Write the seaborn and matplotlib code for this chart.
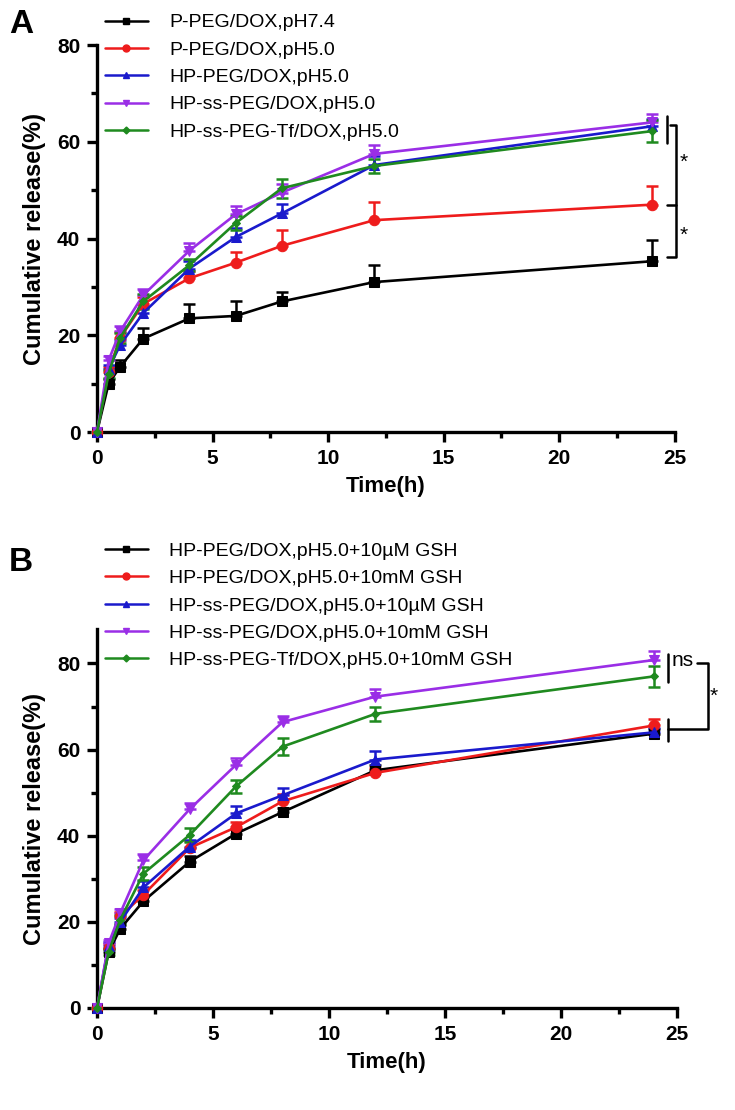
import matplotlib
matplotlib.use('Agg')
import matplotlib.pyplot as plt
import seaborn as sns
import pandas as pd
import numpy as np
from matplotlib.lines import Line2D
from matplotlib.ticker import MultipleLocator

sns.set_theme(style="ticks")
plt.rcParams['font.family'] = ['Liberation Sans', 'DejaVu Sans']
plt.rcParams['text.color'] = 'black'
plt.rcParams['axes.labelcolor'] = 'black'

# 시간 (h)
time = [0, 0.5, 1, 2, 4, 6, 8, 12, 24]

# A: pH 조건별 누적 방출
labels_a = ['P-PEG/DOX,pH7.4', 'P-PEG/DOX,pH5.0', 'HP-PEG/DOX,pH5.0',
            'HP-ss-PEG/DOX,pH5.0', 'HP-ss-PEG-Tf/DOX,pH5.0']
a_p_peg_74 = [0, 10.0, 13.5, 19.3, 23.5, 24.0, 27.0, 31.0, 35.3]
a_p_peg_50 = [0, 12.5, 19.5, 26.5, 31.8, 35.0, 38.5, 43.8, 47.0]
a_hp_peg_50 = [0, 13.0, 18.0, 24.6, 33.8, 40.3, 45.2, 55.2, 63.2]
a_hp_ss_peg_50 = [0, 14.8, 20.8, 28.3, 37.5, 45.0, 49.5, 57.5, 64.0]
a_hp_ss_tf_50 = [0, 12.0, 19.5, 27.0, 34.5, 43.2, 50.4, 55.0, 62.2]
a_err_p_peg_74 = [0, 1.0, 1.3, 2.3, 3.0, 3.0, 2.0, 3.5, 4.5]
a_err_p_peg_50 = [0, 1.0, 1.2, 1.5, 1.5, 2.3, 3.2, 3.8, 3.8]
a_err_hp_peg_50 = [0, 0.8, 1.0, 1.0, 1.5, 1.8, 2.0, 1.8, 1.5]
a_err_hp_ss_peg_50 = [0, 1.0, 1.2, 1.3, 1.5, 1.7, 1.8, 1.8, 1.7]
a_err_hp_ss_tf_50 = [0, 0.8, 1.0, 1.5, 1.3, 1.5, 2.0, 1.5, 2.3]

# B: GSH 농도별 누적 방출
labels_b = ['HP-PEG/DOX,pH5.0+10µM GSH', 'HP-PEG/DOX,pH5.0+10mM GSH',
            'HP-ss-PEG/DOX,pH5.0+10µM GSH', 'HP-ss-PEG/DOX,pH5.0+10mM GSH',
            'HP-ss-PEG-Tf/DOX,pH5.0+10mM GSH']
b_hp_peg_um = [0, 13.0, 18.4, 24.8, 34.0, 40.5, 45.5, 55.2, 63.7]
b_hp_peg_mm = [0, 14.0, 21.3, 26.3, 37.2, 42.0, 48.0, 54.6, 65.6]
b_hp_ss_peg_um = [0, 14.5, 20.0, 28.0, 37.5, 45.2, 49.4, 57.7, 64.0]
b_hp_ss_peg_mm = [0, 15.0, 22.0, 34.3, 46.2, 56.5, 66.4, 72.3, 80.8]
b_hp_ss_tf_mm = [0, 13.0, 20.5, 31.2, 40.2, 51.5, 60.7, 68.3, 77.0]
b_err_hp_peg_um = [0, 0.8, 0.8, 1.0, 1.2, 1.0, 1.0, 1.2, 1.0]
b_err_hp_peg_mm = [0, 0.8, 1.0, 1.2, 1.5, 1.3, 1.8, 1.2, 1.6]
b_err_hp_ss_peg_um = [0, 0.8, 1.0, 1.5, 1.5, 1.8, 1.8, 2.0, 1.0]
b_err_hp_ss_peg_mm = [0, 0.8, 1.0, 1.5, 1.3, 1.5, 1.3, 1.7, 2.0]
b_err_hp_ss_tf_mm = [0, 0.8, 1.0, 1.5, 1.7, 1.5, 2.0, 1.7, 2.4]

colors = ['#000000', '#ee1c1c', '#1a1acc', '#9a2ee6', '#1f8a1f']
markers = ['s', 'o', '^', 'v', 'D']
msizes = [7, 7.5, 7, 7, 4.5]
# 초록색만 양방향 오차막대
both_sides = [False, False, False, False, True]


def draw_panel(ax, labels, values, errs):
    for i, (lab, v, e) in enumerate(zip(labels, values, errs)):
        df = pd.DataFrame({'time': time, 'release': v})
        e = np.array(e)
        lower = e if both_sides[i] else np.zeros_like(e)
        ax.errorbar(time, v, yerr=[lower, e], fmt='none', ecolor=colors[i],
                    elinewidth=1.8, capsize=4.5, capthick=1.8, clip_on=False, zorder=2)
        sns.lineplot(x='time', y='release', data=df, ax=ax, color=colors[i],
                     marker=markers[i], markersize=msizes[i], markeredgecolor=colors[i],
                     linewidth=1.9, clip_on=False, zorder=3, legend=False)

    ax.set_xlim(0, 25)
    ax.xaxis.set_major_locator(MultipleLocator(5))
    ax.xaxis.set_minor_locator(MultipleLocator(2.5))
    ax.yaxis.set_major_locator(MultipleLocator(20))
    ax.yaxis.set_minor_locator(MultipleLocator(10))
    for s in ['top', 'right']:
        ax.spines[s].set_visible(False)
    for s in ['left', 'bottom']:
        ax.spines[s].set_linewidth(2.4)
        ax.spines[s].set_color('black')
    ax.tick_params(which='major', direction='out', length=7, width=2.4, colors='black',
                   labelsize=15, pad=5)
    ax.tick_params(which='minor', direction='out', length=4.5, width=2.4, colors='black')
    for t in ax.get_xticklabels() + ax.get_yticklabels():
        t.set_fontweight('bold')
    ax.set_xlabel('Time(h)', fontsize=16, fontweight='bold', labelpad=6)
    ax.set_ylabel('Cumulative release(%)', fontsize=17, fontweight='bold', labelpad=8)

    handles = [Line2D([], [], color=colors[i], marker=markers[i], linewidth=1.8,
                      markersize=5 if i < 4 else 3.5) for i in range(len(labels))]
    return handles


fig = plt.figure(figsize=(7.35, 11.1), dpi=100)
ax_a = fig.add_axes([0.132, 0.6108, 0.786, 0.3486])
ax_b = fig.add_axes([0.132, 0.0919, 0.789, 0.3414])

h_a = draw_panel(ax_a, labels_a,
                 [a_p_peg_74, a_p_peg_50, a_hp_peg_50, a_hp_ss_peg_50, a_hp_ss_tf_50],
                 [a_err_p_peg_74, a_err_p_peg_50, a_err_hp_peg_50, a_err_hp_ss_peg_50, a_err_hp_ss_tf_50])
ax_a.set_ylim(0, 80)

h_b = draw_panel(ax_b, labels_b,
                 [b_hp_peg_um, b_hp_peg_mm, b_hp_ss_peg_um, b_hp_ss_peg_mm, b_hp_ss_tf_mm],
                 [b_err_hp_peg_um, b_err_hp_peg_mm, b_err_hp_ss_peg_um, b_err_hp_ss_peg_mm, b_err_hp_ss_tf_mm])
ax_b.set_ylim(0, 88)

leg_kw = dict(frameon=False, fontsize=14, handlelength=2.2, handletextpad=1.1,
              labelspacing=0.5, borderpad=0, borderaxespad=0, loc='upper left',
              bbox_transform=fig.transFigure, labelcolor='black')
ax_a.legend(h_a, labels_a, bbox_to_anchor=(0.143, 0.9875), **leg_kw)
ax_b.legend(h_b, labels_b, bbox_to_anchor=(0.143, 0.5115), **leg_kw)

# 유의성 표시 (A)
bk = dict(color='black', linewidth=1.8, clip_on=False)
ax_a.plot([24.65, 24.65], [59.7, 65.3], **bk)
ax_a.plot([24.78, 25.04, 25.04, 24.65], [63.4, 63.4, 36.2, 36.2], **bk)
ax_a.plot([24.65, 25.04], [46.9, 46.9], **bk)
ax_a.text(25.37, 55.8, '*', fontsize=15, ha='center', va='center')
ax_a.text(25.37, 40.7, '*', fontsize=15, ha='center', va='center')

# 유의성 표시 (B)
ax_b.plot([24.6, 24.6], [75.8, 82.1], **bk)
ax_b.plot([24.6, 24.6], [61.9, 67.0], **bk)
ax_b.plot([25.86, 26.33, 26.33, 24.6], [80.2, 80.2, 64.7, 64.7], **bk)
ax_b.text(25.25, 80.6, 'ns', fontsize=15, ha='center', va='center')
ax_b.text(26.6, 72.3, '*', fontsize=15, ha='center', va='center')

fig.text(0.012, 0.992, 'A', fontsize=24, fontweight='bold', va='top', ha='left')
fig.text(0.012, 0.507, 'B', fontsize=24, fontweight='bold', va='top', ha='left')

fig.savefig('out.png', dpi=100)
